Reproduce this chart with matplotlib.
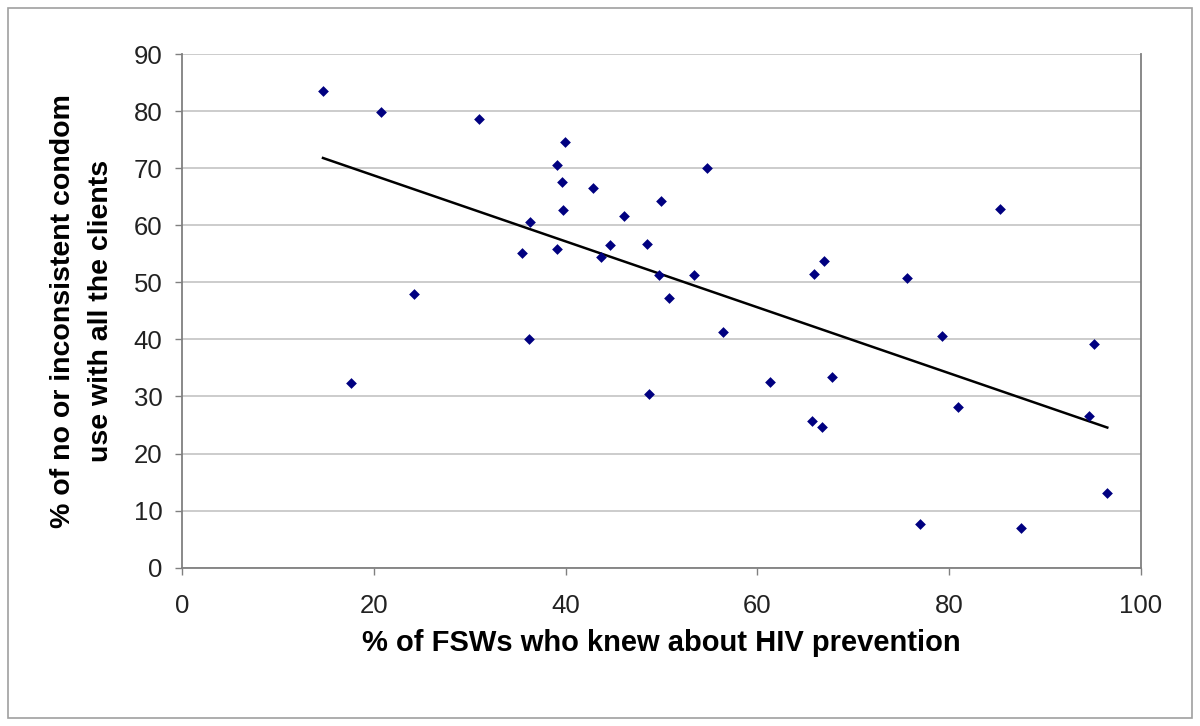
#!/usr/bin/env python3

import numpy as np
import matplotlib
matplotlib.use('Agg')
import matplotlib.pyplot as plt
from matplotlib.patches import Rectangle

# % of FSWs who knew about HIV prevention
knew_hiv = [14.7, 17.6, 20.8, 24.2, 31.0, 35.5, 36.3, 36.2, 39.1, 39.1,
            39.6, 39.7, 39.9, 42.9, 43.7, 44.6, 46.1, 48.5, 48.7, 49.7,
            50.0, 50.8, 53.4, 54.7, 56.4, 61.3, 65.7, 65.9, 66.7, 67.0,
            67.8, 75.6, 77.0, 79.3, 80.9, 85.3, 87.5, 94.6, 95.1, 96.5]

# % of no or inconsistent condom use with all the clients
no_condom = [83.6, 32.3, 79.9, 48.0, 78.7, 55.1, 60.6, 40.0, 55.9, 70.6,
             67.6, 62.7, 74.6, 66.5, 54.4, 56.5, 61.6, 56.7, 30.5, 51.2,
             64.3, 47.2, 51.3, 70.0, 41.3, 32.5, 25.7, 51.5, 24.6, 53.7,
             33.5, 50.7, 7.7, 40.6, 28.1, 62.9, 7.0, 26.5, 39.2, 13.1]

x_ticks = [0, 20, 40, 60, 80, 100]
y_ticks = [0, 10, 20, 30, 40, 50, 60, 70, 80, 90]

plt.rcParams['font.family'] = ['Liberation Sans', 'DejaVu Sans']

fig = plt.figure(figsize=(12, 7.26), dpi=100)
ax = fig.add_axes([0.1517, 0.218, 0.799, 0.7076])

# outer frame round the whole chart
fig.patches.append(Rectangle((0.007, 0.011), 0.986, 0.978, transform=fig.transFigure,
                             fill=False, edgecolor='#a0a0a0', linewidth=1.2))

x = np.array(knew_hiv)
y = np.array(no_condom)

# linear trend line over the data range
slope, intercept = np.polyfit(x, y, 1)
xs = np.array([x.min(), x.max()])
ax.plot(xs, slope * xs + intercept, color='black', linewidth=1.8, zorder=2)

ax.scatter(x, y, marker='D', s=30, color='#000080', zorder=3, linewidths=0)

ax.set_xlim(0, 100)
ax.set_ylim(0, 90)
ax.set_xticks(x_ticks)
ax.set_yticks(y_ticks)

ax.yaxis.grid(True, color='#c8c8c8', linewidth=1.3)
ax.set_axisbelow(True)

for side in ['left', 'bottom', 'right']:
    ax.spines[side].set_color('#808080')
    ax.spines[side].set_linewidth(1.3)
ax.spines['top'].set_visible(False)

ax.tick_params(axis='both', direction='out', length=5, width=1,
               color='#808080', labelsize=18.5, labelcolor='#222222')
ax.tick_params(axis='x', pad=14)
ax.tick_params(axis='y', pad=9)

ax.set_xlabel('% of FSWs who knew about HIV prevention',
              fontsize=21, fontweight='bold', labelpad=8)
ax.set_ylabel('% of no or inconsistent condom\nuse with all the clients',
              fontsize=20.5, fontweight='bold', labelpad=14, linespacing=1.6)

plt.savefig('out.png', dpi=100)
